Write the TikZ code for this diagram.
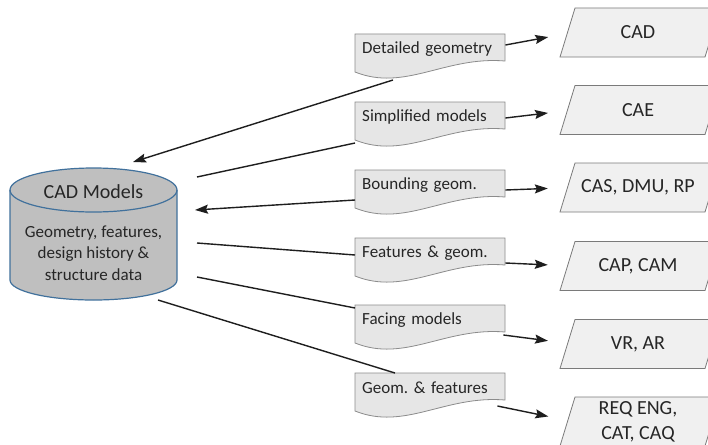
\documentclass[tikz,border=0pt]{standalone}
\usepackage{fontspec}
\setmainfont{Carlito}
\usetikzlibrary{arrows.meta,calc}
\definecolor{cylfill}{HTML}{BFBFBF}
\definecolor{cylline}{HTML}{41719C}
\definecolor{docfill}{HTML}{E6E6E6}
\definecolor{docline}{HTML}{8C8C8C}
\definecolor{parfill}{HTML}{F0F0F0}
\definecolor{parline}{HTML}{7A7A7A}
\definecolor{ink}{HTML}{262626}
\definecolor{wire}{HTML}{1E1E1E}
\frenchspacing
\newcommand\mydocbox[3]{%
  \draw[docshape] (355,#2) -- (505,#2) -- (505,#2+27)
    .. controls (445,#2+22) and (405,#2+58) .. (355,#2+38) -- cycle;
  \node[doctext] (#1) at (355,#2) {#3};}
\newcommand\mypara[3]{%
  \draw[parashape] (560,#2+24.5) -- (705,#2+24.5) -- (720,#2-24.5) -- (575,#2-24.5) -- cycle;
  \node[paratext] (#1) at (638,#2) {#3};}
\begin{document}
\begin{tikzpicture}[x=1pt,y=-1pt,
  doctext/.style={anchor=north west, text width=136pt, inner xsep=7pt, inner ysep=0pt,
    minimum height=30pt, align=left, font=\fontsize{17}{20}\selectfont, text=ink},
  docshape/.style={draw=docline, fill=docfill, line width=0.8pt},
  parashape/.style={draw=parline, fill=parfill, line width=0.8pt},
  paratext/.style={minimum width=130pt, minimum height=49pt, inner sep=0pt,
    font=\fontsize{20}{25}\selectfont, text=ink, align=center},
  wireline/.style={draw=wire, line width=1.4pt},
  arr/.style={wireline, -{Stealth[length=13pt,width=9pt,inset=2pt]}},
  toP/.style={arr, shorten >=25pt}
]
\useasboundingbox (0,0) rectangle (708,444);
\clip (0,0) rectangle (708,444);
\fill[white] (0,0) rectangle (708,444);

% cylinder
\fill[cylfill] (10,190) -- (10,280)
  arc[start angle=180,end angle=360,x radius=83.5pt,y radius=20pt] -- (177,190)
  arc[start angle=0,end angle=180,x radius=83.5pt,y radius=22pt] -- cycle;
\draw[cylline, line width=1.2pt] (10,190) -- (10,280)
  arc[start angle=180,end angle=360,x radius=83.5pt,y radius=20pt] -- (177,190)
  arc[start angle=0,end angle=180,x radius=83.5pt,y radius=22pt] -- cycle;
\draw[cylline, line width=1.2pt] (10,190)
  arc[start angle=180,end angle=360,x radius=83.5pt,y radius=22pt];
\node[font=\fontsize{20}{24}\selectfont, text=ink] (cadm) at (93.5,192) {CAD Models};
\node[font=\fontsize{17}{21.5}\selectfont, align=center, text=ink] (cylt) at (93.5,253)
  {Geometry, features,\\design history \&\\structure data};

% document boxes
\mydocbox{d1}{34}{Detailed geometry}
\mydocbox{d2}{102}{Simplified models}
\mydocbox{d3}{170}{Bounding geom.}
\mydocbox{d4}{238}{Features \& geom.}
\mydocbox{d5}{305}{Facing models}
\mydocbox{d6}{373}{Geom. \& features}

% target applications
\mypara{p1}{32.5}{CAD}
\mypara{p2}{110}{CAE}
\mypara{p3}{187.5}{CAS, DMU, RP}
\mypara{p4}{266}{CAP, CAM}
\mypara{p5}{344}{VR, AR}
\mypara{p6}{421.5}{REQ ENG,\\CAT, CAQ}

% cylinder connection points
\coordinate (c1) at (133,162);
\coordinate (c2) at (197,177);
\coordinate (c3) at (195,210);
\coordinate (c4) at (197,243);
\coordinate (c5) at (197,277);
\coordinate (c6) at (158,300);

% connectors
\draw[arr] ($(d1.north west)+(38,46)$) -- (c1);
\draw[toP] ($(d1.north east)+(0,11)$) -- (p1.west);
\draw[wireline] (c2) -- ($(d2.north west)+(0,41)$);
\draw[toP] ($(d2.north east)+(0,16)$) -- (p2.west);
\draw[arr] ($(d3.north west)+(0,30)$) -- (c3);
\draw[toP] ($(d3.north east)+(0,20)$) -- (p3.west);
\draw[wireline] (c4) -- ($(d4.north west)+(0,17)$);
\draw[toP] ($(d4.north east)+(0,25)$) -- (p4.west);
\draw[wireline] (c5) -- ($(d5.north west)+(0,3)$);
\draw[toP] ($(d5.north east)+(-2,30)$) -- (p5.west);
\draw[wireline] (c6) -- ($(d6.north west)+(40,0)$);
\draw[toP] ($(d6.north east)+(-8,33)$) -- (p6.west);
\end{tikzpicture}
\end{document}
